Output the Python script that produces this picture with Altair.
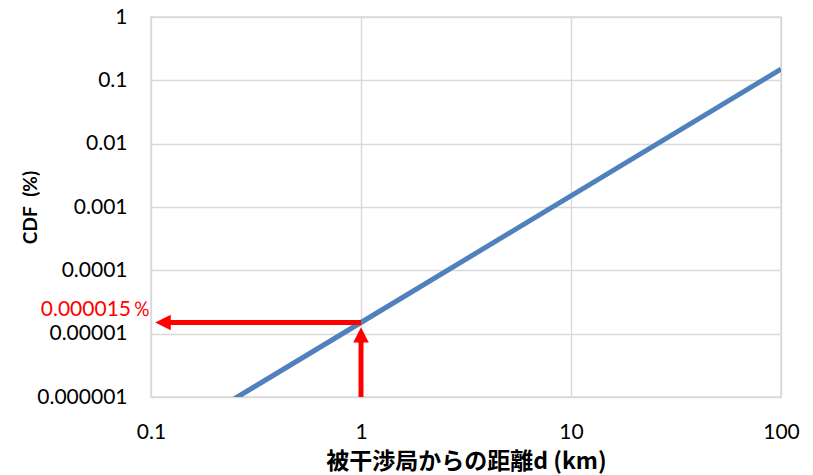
import altair as alt
import pandas as pd

# CDF of interference versus distance from the victim station (log-log)
d_km = [0.25, 1, 100]
cdf_pct = [0.00000094, 0.000015, 0.15]

x_ticks = [0.1, 1, 10, 100]
y_ticks = [0.000001, 0.00001, 0.0001, 0.001, 0.01, 0.1, 1]

# Annotation: read-off at d = 1 km
mark_d = 1
mark_cdf = 0.000015
arrow_h_tip_d = 0.1045
arrow_v_base = 0.000001
arrow_v_tip = 0.0000128
label_text = "0.000015％"

RED = "#ff0000"
BLUE = "#4f81bd"
GRID = "#d9d9d9"
FONT = "Lato"

curve = pd.DataFrame({"d": d_km, "cdf": cdf_pct})

x_scale = alt.Scale(type="log", domain=[0.1, 100], nice=False)
y_scale = alt.Scale(type="log", domain=[0.000001, 1], nice=False)

x_axis = alt.Axis(
    values=x_ticks, format=".1~f", ticks=False, tickSize=0, domain=False,
    grid=True, gridColor=GRID, gridWidth=1.4,
    labelFont=FONT, labelFontSize=21, labelColor="#000000", labelPadding=24,
    labelFlush=False,
    title="被干渉局からの距離d (km)", titleFont="Noto Sans CJK JP",
    titleFontSize=23, titleFontWeight="bold", titleColor="#000000",
    titleY=64, titleBaseline="middle",
)
y_axis = alt.Axis(
    values=y_ticks, format=".6~f", ticks=False, tickSize=0, domain=False,
    grid=True, gridColor=GRID, gridWidth=1.4,
    labelFont=FONT, labelFontSize=21, labelColor="#000000", labelPadding=24,
    labelFlush=False,
    title="CDF\u2002(%)", titleFont=FONT, titleFontSize=19, titleFontWeight="bold",
    titleColor="#000000", titleAngle=270, titleX=-121, titleY=190,
    titleAlign="center", titleBaseline="middle",
)

line = alt.Chart(curve).mark_line(color=BLUE, strokeWidth=5, clip=True).encode(
    x=alt.X("d:Q", scale=x_scale, axis=x_axis),
    y=alt.Y("cdf:Q", scale=y_scale, axis=y_axis),
)

h_arrow = pd.DataFrame({"x1": [mark_d], "x2": [arrow_h_tip_d], "y": [mark_cdf]})
v_arrow = pd.DataFrame({"x": [mark_d], "y1": [arrow_v_base], "y2": [arrow_v_tip]})

h_shaft = alt.Chart(h_arrow).mark_rule(color=RED, strokeWidth=5, x2Offset=10).encode(
    x=alt.X("x1:Q", scale=x_scale), x2="x2:Q", y=alt.Y("y:Q", scale=y_scale)
)
h_head = alt.Chart(h_arrow).mark_point(
    shape="M-1,0L1,-1L1,1Z", size=240, filled=True, opacity=1,
    color=RED, strokeWidth=0, xOffset=8,
).encode(x=alt.X("x2:Q", scale=x_scale), y=alt.Y("y:Q", scale=y_scale))

v_shaft = alt.Chart(v_arrow).mark_rule(color=RED, strokeWidth=5, y2Offset=10).encode(
    x=alt.X("x:Q", scale=x_scale), y=alt.Y("y1:Q", scale=y_scale), y2="y2:Q"
)
v_head = alt.Chart(v_arrow).mark_point(
    shape="M0,-1L1,1L-1,1Z", size=240, filled=True, opacity=1,
    color=RED, strokeWidth=0, yOffset=8,
).encode(x=alt.X("x:Q", scale=x_scale), y=alt.Y("y2:Q", scale=y_scale))

label = alt.Chart(pd.DataFrame({"x": [0.1], "y": [mark_cdf], "t": [label_text]})).mark_text(
    color=RED, font=FONT, fontSize=21, align="right", baseline="middle", dx=1, dy=-13
).encode(x=alt.X("x:Q", scale=x_scale), y=alt.Y("y:Q", scale=y_scale), text="t:N")

chart = (
    alt.layer(line, h_shaft, h_head, v_shaft, v_head, label)
    .properties(
        width=630, height=380, autosize="none",
        padding={"left": 151, "top": 17, "right": 32, "bottom": 78},
        background="#ffffff",
    )
    .configure_view(stroke=GRID, strokeWidth=1.5)
)

chart.save("out.html", embed_options={"renderer": "svg", "actions": False})
